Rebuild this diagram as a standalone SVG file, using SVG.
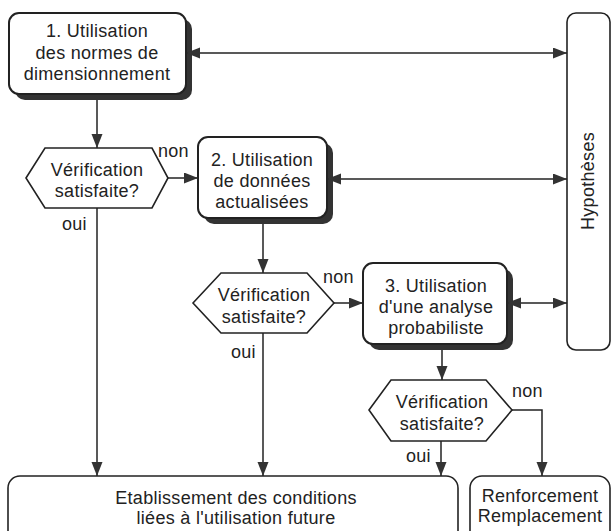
<svg xmlns="http://www.w3.org/2000/svg" width="612" height="531" viewBox="0 0 612 531">
<style>
text{font-family:"Liberation Sans",Arial,sans-serif;font-size:18px;letter-spacing:0.3px;fill:#222;text-anchor:middle}
.lbl{text-anchor:start}
.box{fill:#fff;stroke:#222;stroke-width:2}
.shadow{fill:#333;stroke:none}
.hex{fill:#fff;stroke:#222;stroke-width:1.6}
.plain{fill:#fff;stroke:#222;stroke-width:1.6}
.con{fill:none;stroke:#222;stroke-width:1.5}
</style>
<defs>
<marker id="ah" markerUnits="userSpaceOnUse" markerWidth="15" markerHeight="12" refX="14" refY="5.5" orient="auto-start-reverse">
<path d="M0,0 L14,5.5 L0,11 Z" fill="#333"/>
</marker>
</defs>
<rect width="612" height="531" fill="#fff"/>

<g id="box1">
<rect class="shadow" x="15" y="19" width="177" height="81" rx="10"/>
<rect class="box" x="9" y="13" width="177" height="81" rx="10"/>
<text x="97" y="37">1. Utilisation</text>
<text x="97" y="59">des normes de</text>
<text x="97" y="80">dimensionnement</text>
</g>

<g id="hyp">
<rect class="plain" x="567" y="13" width="43" height="337" rx="9"/>
<text transform="translate(594,181) rotate(-90)">Hypothèses</text>
</g>

<g id="check1">
<polygon class="hex" points="26,178 45,148 152,148 168,178 152,208 45,208"/>
<text x="97" y="176">Vérification</text>
<text x="97" y="197">satisfaite?</text>
</g>

<g id="box2">
<rect class="shadow" x="204" y="143" width="129" height="81" rx="10"/>
<rect class="box" x="198" y="137" width="129" height="81" rx="10"/>
<text x="262" y="166">2. Utilisation</text>
<text x="262" y="187">de données</text>
<text x="262" y="208">actualisées</text>
</g>

<g id="check2">
<polygon class="hex" points="193,303 221,273 307,273 334,303 307,333 221,333"/>
<text x="264" y="301">Vérification</text>
<text x="264" y="323">satisfaite?</text>
</g>

<g id="box3">
<rect class="shadow" x="369" y="269" width="144" height="81" rx="10"/>
<rect class="box" x="363" y="263" width="144" height="81" rx="10"/>
<text x="436" y="292">3. Utilisation</text>
<text x="436" y="313">d'une analyse</text>
<text x="436" y="334">probabiliste</text>
</g>

<g id="check3">
<polygon class="hex" points="369,410 391,380 486,380 512,410 486,441 391,441"/>
<text x="442" y="408">Vérification</text>
<text x="442" y="430">satisfaite?</text>
</g>

<g id="final">
<rect class="plain" x="8" y="476" width="450" height="70" rx="12"/>
<text x="236" y="504">Etablissement des conditions</text>
<text x="236" y="524">liées à l'utilisation future</text>
</g>

<g id="reinforce">
<rect class="plain" x="470" y="476" width="140" height="70" rx="12"/>
<text x="540" y="502">Renforcement</text>
<text x="540" y="522">Remplacement</text>
</g>

<g id="connectors">
<path class="con" d="M97,100 V148" marker-end="url(#ah)"/>
<path class="con" d="M168,178 H198" marker-end="url(#ah)"/>
<path class="con" d="M97,208 V476" marker-end="url(#ah)"/>
<path class="con" d="M263,224 V273" marker-end="url(#ah)"/>
<path class="con" d="M334,303 H363" marker-end="url(#ah)"/>
<path class="con" d="M263,333 V476" marker-end="url(#ah)"/>
<path class="con" d="M442,350 V380" marker-end="url(#ah)"/>
<path class="con" d="M441,441 V476" marker-end="url(#ah)"/>
<path class="con" d="M512,410 H542 V476" marker-end="url(#ah)"/>
<path class="con" d="M186,53 H567" marker-start="url(#ah)" marker-end="url(#ah)"/>
<path class="con" d="M327,179 H567" marker-start="url(#ah)" marker-end="url(#ah)"/>
<path class="con" d="M507,303 H567" marker-start="url(#ah)" marker-end="url(#ah)"/>
<text class="lbl" x="158" y="157">non</text>
<text class="lbl" x="62" y="230">oui</text>
<text class="lbl" x="323" y="283">non</text>
<text class="lbl" x="231" y="358">oui</text>
<text class="lbl" x="512" y="397">non</text>
<text class="lbl" x="406" y="462">oui</text>
</g>
</svg>
